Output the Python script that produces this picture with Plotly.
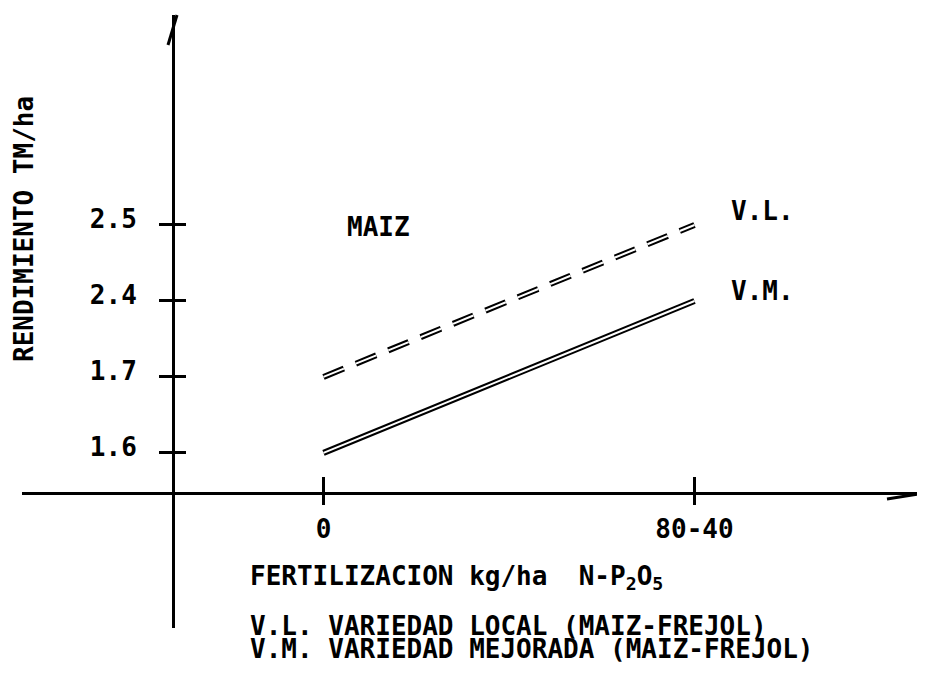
import plotly.graph_objects as go

# ---- data ----
x_categories = ["0", "80-40"]
y_tick_labels = ["1.6", "1.7", "2.4", "2.5"]
vl_values = ["1.7", "2.5"]   # V.L. variedad local
vm_values = ["1.6", "2.4"]   # V.M. variedad mejorada

# page body has an 8px margin; figure is sized to fit the window exactly
OFF = 8
W, H = 925 - OFF, 673 - OFF
FONT = "DejaVu Sans Mono"
FS = 26


def px(x):
    return (x - OFF) / W


def py(y):
    return 1 - (y - OFF) / H


fig = go.Figure()

# double lines: thick black with thin white core
dash_pat = "22px,13px"
fig.add_trace(go.Scatter(x=x_categories, y=vl_values, mode="lines",
                         line=dict(color="black", width=6, dash=dash_pat),
                         hoverinfo="skip", showlegend=False))
fig.add_trace(go.Scatter(x=x_categories, y=vl_values, mode="lines",
                         line=dict(color="white", width=2, dash=dash_pat),
                         hoverinfo="skip", showlegend=False))
fig.add_trace(go.Scatter(x=x_categories, y=vm_values, mode="lines",
                         line=dict(color="black", width=6),
                         hoverinfo="skip", showlegend=False))
fig.add_trace(go.Scatter(x=x_categories, y=vm_values, mode="lines",
                         line=dict(color="white", width=2),
                         hoverinfo="skip", showlegend=False))
# invisible trace to carry the overlay axes (inner halves of crossing ticks)
fig.add_trace(go.Scatter(x=x_categories, y=vm_values, mode="lines",
                         xaxis="x2", yaxis="y2",
                         line=dict(color="rgba(0,0,0,0)", width=0),
                         hoverinfo="skip", showlegend=False))

# axis geometry (reference pixel positions)
x0_pix, x1_pix = 323.5, 694.5          # category "0" and "80-40"
xscale = x1_pix - x0_pix
xl_pix, xr_pix = 22, 925 + 0.0          # x axis line extent
y0_pix, ystep = 452.9, 75.97            # category "1.6" and step per category
yb_pix, yt_pix = 628, 15                # y axis line extent

xr = [(xl_pix - x0_pix) / xscale, (xr_pix - x0_pix) / xscale]
yr = [(y0_pix - yb_pix) / ystep, (y0_pix - yt_pix) / ystep]
xdom = [px(xl_pix), min(1, px(xr_pix))]
xr[1] = (xdom[1] * W + OFF - x0_pix) / xscale
ydom = [py(yb_pix), py(yt_pix)]
xpos = py(493)
ypos = px(173)

common_font = dict(family=FONT, size=FS, color="black", weight="bold")

fig.update_layout(
    width=W, height=H,
    margin=dict(l=0, r=0, t=0, b=0),
    paper_bgcolor="white", plot_bgcolor="white",
    showlegend=False,
    xaxis=dict(type="category", categoryorder="array", categoryarray=x_categories,
               range=xr, domain=xdom, anchor="free", position=xpos,
               showline=True, linecolor="black", linewidth=3,
               ticks="outside", ticklen=10, tickwidth=2.5, tickcolor="black",
               tickfont=common_font, ticklabelstandoff=2,
               showgrid=False, zeroline=False),
    xaxis2=dict(type="category", categoryorder="array", categoryarray=x_categories,
                range=xr, domain=xdom, anchor="free", position=xpos,
                overlaying="x", showline=False,
                ticks="inside", ticklen=16, tickwidth=2.5, tickcolor="black",
                showticklabels=False, showgrid=False, zeroline=False),
    yaxis=dict(type="category", categoryorder="array", categoryarray=y_tick_labels,
               range=yr, domain=ydom, anchor="free", position=ypos,
               showline=True, linecolor="black", linewidth=3,
               ticks="outside", ticklen=13, tickwidth=2.5, tickcolor="black",
               tickfont=common_font, ticklabelstandoff=17, ticklabelshift=-6,
               showgrid=False, zeroline=False),
    yaxis2=dict(type="category", categoryorder="array", categoryarray=y_tick_labels,
                range=yr, domain=ydom, anchor="free", position=ypos,
                overlaying="y", showline=False,
                ticks="inside", ticklen=12, tickwidth=2.5, tickcolor="black",
                showticklabels=False, showgrid=False, zeroline=False),
)

# decorative hand-drawn strokes: hook at top of y axis, arrow barb at x axis end
fig.add_shape(type="line", xref="paper", yref="paper",
              x0=px(177), y0=py(15), x1=px(168), y1=py(45),
              line=dict(color="black", width=3))
fig.add_shape(type="line", xref="paper", yref="paper",
              x0=px(887), y0=py(499), x1=1.0, y1=py(493),
              line=dict(color="black", width=3))

annots = [
    dict(text="RENDIMIENTO TM/ha", x=px(24), y=py(229), textangle=-90,
         xanchor="center", yanchor="middle"),
    dict(text="MAIZ", x=px(345), y=py(227), xanchor="left", yanchor="middle"),
    dict(text="V.L.", x=px(729), y=py(211), xanchor="left", yanchor="middle"),
    dict(text="V.M.", x=px(729), y=py(291), xanchor="left", yanchor="middle"),
    dict(text="FERTILIZACION kg/ha  N-P<sub>2</sub>O<sub>5</sub>", x=px(248), y=py(577),
         xanchor="left", yanchor="middle"),
    dict(text="V.L. VARIEDAD LOCAL (MAIZ-FREJOL)", x=px(248), y=py(626),
         xanchor="left", yanchor="middle"),
    dict(text="V.M. VARIEDAD MEJORADA (MAIZ-FREJOL)", x=px(248), y=py(649),
         xanchor="left", yanchor="middle"),
]
for a in annots:
    fig.add_annotation(xref="paper", yref="paper", showarrow=False,
                       font=common_font, **a)

fig.write_html("out.html")
